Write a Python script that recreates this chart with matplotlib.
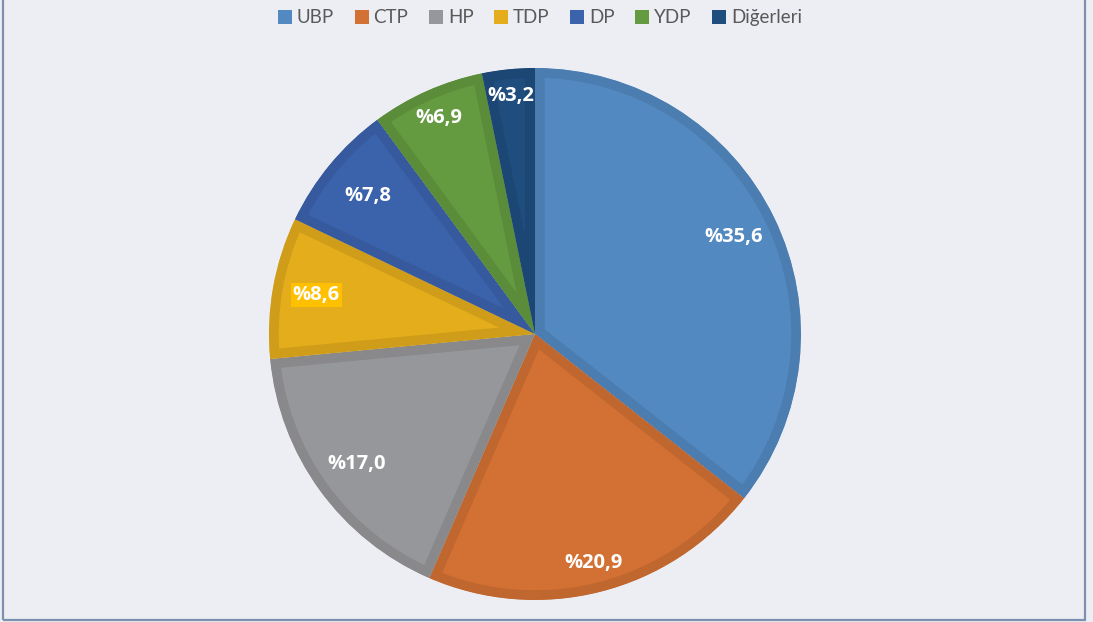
import matplotlib

matplotlib.use("Agg")
import matplotlib.pyplot as plt
from matplotlib.patches import Patch, Rectangle
import numpy as np

parties = ["UBP", "CTP", "HP", "TDP", "DP", "YDP", "Diğerleri"]
shares = [35.6, 20.9, 17.0, 8.6, 7.8, 6.9, 3.2]
colors = ["#5289C1", "#D27133", "#96979A", "#E3AD1B", "#3B63AC", "#649A40", "#1F4D7E"]
# radial position of each percentage label (fraction of radius)
label_r = [0.83, 0.89, 0.83, 0.835, 0.815, 0.89, 0.90]

plt.rcParams["font.family"] = ["Lato", "DejaVu Sans"]

BG = "#ECEEF3"
fig = plt.figure(figsize=(10.93, 6.22), dpi=100, facecolor=BG)
fig.patches.append(Rectangle((0.0025, 0.004), 0.9905, 1.1, transform=fig.transFigure,
                             fill=False, edgecolor="#7C90AF", lw=1.6))

ax = fig.add_axes([0.2461, 0.0354, 0.4867, 0.8553])
ax.set_facecolor(BG)
wedges, _ = ax.pie(shares, colors=colors, startangle=90, counterclock=False,
                   radius=1.0, wedgeprops=dict(linewidth=0))


def darker(c, f=0.9):
    r, g, b = matplotlib.colors.to_rgb(c)
    return (r * f, g * f, b * f)


# darker inner rim on each slice, clipped to the slice itself
for w, c in zip(wedges, colors):
    w.set_edgecolor(darker(c, 0.91))
    w.set_linewidth(14)
    w.set_joinstyle("round")
    w.set_clip_on(True)
    w.set_clip_path(w)

for w, s, r, name in zip(wedges, shares, label_r, parties):
    ang = np.deg2rad((w.theta1 + w.theta2) / 2)
    txt = f"%{s:.1f}".replace(".", ",")
    kw = dict(ha="center", va="center", color="white", fontsize=14.5, fontweight="bold",
              family=["Open Sans", "DejaVu Sans"])
    if name == "TDP":
        kw["bbox"] = dict(boxstyle="square,pad=0.1", fc="#FFC000", ec="none")
    ax.text(r * np.cos(ang), r * np.sin(ang), txt, **kw)

ax.set_xlim(-1, 1)
ax.set_ylim(-1, 1)
ax.set_aspect("equal")
ax.axis("off")

handles = [Patch(facecolor=c, edgecolor="none") for c in colors]
fig.legend(handles, parties, loc="upper center", bbox_to_anchor=(0.494, 1.012),
           ncol=7, frameon=False, fontsize=13.5, handlelength=0.75, handleheight=0.75,
           handletextpad=0.25, columnspacing=1.1, labelcolor="#595959")

fig.savefig("out.png", dpi=100, facecolor=BG)
